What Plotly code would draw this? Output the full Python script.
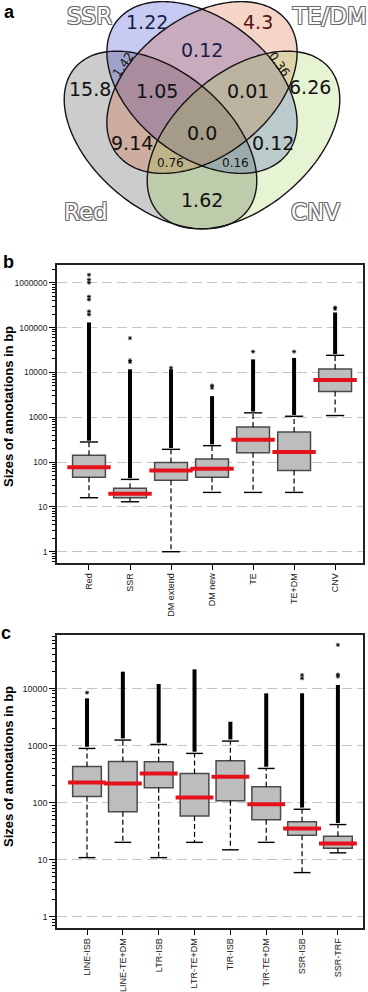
import numpy as np
import plotly.graph_objects as go

W, H = 368, 992

# ---------------- Panel a : Venn diagram ----------------
venn_sets = ["Red", "SSR", "TE/DM", "CNV"]
venn_region_text = ["1.22", "4.3", "0.12", "1.42", "0.36", "15.8", "1.05", "0.01",
                    "6.26", "0.0", "9.14", "0.12", "0.76", "0.16", "1.62"]

# layout of the diagram (pixel space)
venn_cx = [160.5, 202, 202, 243.5]
venn_cy = [140, 87.5, 87.5, 140]
venn_a = [112, 108, 108, 112]
venn_b = [68, 69, 69, 68]
venn_rot = [40, 38, -38, -40]
venn_fill = ["rgb(0,0,0)", "rgb(0,20,205)", "rgb(205,65,0)", "rgb(145,207,60)"]
venn_alpha = [0.2, 0.22, 0.22, 0.22]

region_x = [147, 258, 202, 123, 279, 90, 157, 248, 310, 202, 132, 273, 170, 235, 202]
region_y = [22, 22, 50, 65, 64, 89, 91, 91, 87, 133, 143, 143, 163, 163, 200]
region_size = [19, 19, 19, 12, 12, 19, 19, 19, 19, 19, 19, 19, 12, 12, 19]
region_angle = [0, 0, 0, -55, 55, 0, 0, 0, 0, 0, 0, 0, 0, 0, 0]
region_color = ["#1c1c4a", "#5a1212", "#1c1c4a", "#111", "#111", "#111", "#111", "#111",
                "#111", "#111", "#111", "#111", "#111", "#111", "#111"]
set_label_x = [86, 89, 329, 315]
set_label_y = [212, 16, 16, 212]

# ---------------- Panel b ----------------
cats_b = ["Red", "SSR", "DM extend", "DM new", "TE", "TE+DM", "CNV"]
q1_b = [46, 16, 39, 46, 162, 65, 3760]
med_b = [77, 19.5, 65, 71, 316, 167, 6730]
q3_b = [141, 26, 98, 117, 608, 470, 11900]
lo_b = [16, 13, 1, 21, 21, 21, 1090]
hi_b = [280, 41, 192, 232, 1250, 1050, 24000]
dense_top_b = [130000, 11700, 11700, 2950, 19500, 21000, 217000]
sparse_b = [[195000, 230000, 420000, 490000, 1000000, 1170000, 1500000],
            [17000, 18500, 58000],
            [12600],
            [4500, 5100],
            [29000],
            [29000],
            [260000, 280000]]
yticks_b = [1, 10, 100, 1000, 10000, 100000, 1000000]

# ---------------- Panel c ----------------
cats_c = ["LINE-ISB", "LINE-TE+DM", "LTR-ISB", "LTR-TE+DM", "TIR-ISB", "TIR-TE+DM", "SSR-ISB", "SSR-TRF"]
q1_c = [127, 69, 181, 58, 107, 50, 26.7, 15.8]
med_c = [224, 215, 323, 122, 282, 93, 35, 19]
q3_c = [428, 524, 517, 323, 538, 188, 46, 25.7]
lo_c = [10.8, 20, 10.8, 20, 14.8, 20, 5.9, 13.1]
hi_c = [885, 1240, 1040, 724, 1190, 395, 76, 41]
dense_top_c = [6680, 19600, 11900, 21500, 2600, 8170, 8200, 11400]
sparse_c = [[8400], [], [], [], [], [], [15000, 17100], [16000, 17500, 57700]]
yticks_c = [1, 10, 100, 1000, 10000]

fig = go.Figure()


def px(x):
    return x / W


def py(y):
    return 1 - y / H


def ellipse_path(cx, cy, a, b, rot, n=180):
    t = np.linspace(0, 2 * np.pi, n, endpoint=False)
    r = np.deg2rad(rot)
    xs = cx + a * np.cos(t) * np.cos(r) - b * np.sin(t) * np.sin(r)
    ys = cy + a * np.cos(t) * np.sin(r) + b * np.sin(t) * np.cos(r)
    pts = [f"{px(x):.5f},{py(y):.5f}" for x, y in zip(xs, ys)]
    return "M" + " L".join(pts) + " Z"


shapes = []
for i in range(4):
    shapes.append(dict(type="path", xref="paper", yref="paper",
                       path=ellipse_path(venn_cx[i], venn_cy[i], venn_a[i], venn_b[i], venn_rot[i]),
                       fillcolor=venn_fill[i], opacity=venn_alpha[i], line=dict(width=0)))
for i in range(4):
    shapes.append(dict(type="path", xref="paper", yref="paper",
                       path=ellipse_path(venn_cx[i], venn_cy[i], venn_a[i], venn_b[i], venn_rot[i]),
                       fillcolor="rgba(0,0,0,0)", line=dict(width=1.4, color="#141414")))

annotations = []


def note(x, y, text, font, angle=0):
    annotations.append(dict(x=px(x), y=py(y), xref="paper", yref="paper", text=text,
                            showarrow=False, textangle=angle, xanchor="center", yanchor="middle",
                            font=font))


for i, txt in enumerate(venn_region_text):
    note(region_x[i], region_y[i], txt,
         dict(family="DejaVu Sans", size=region_size[i], color=region_color[i]), region_angle[i])

outline = "-1px -1px 0 #6a6a6a, 1px -1px 0 #6a6a6a, -1px 1px 0 #6a6a6a, 1px 1px 0 #6a6a6a"
for i, name in enumerate(venn_sets):
    note(set_label_x[i], set_label_y[i], name,
         dict(family="DejaVu Sans", size=23, color="#fbfbfb", shadow=outline))

# panel letters
for letter, lx, ly in [("a", 9, 12), ("b", 8, 262), ("c", 6, 633)]:
    note(lx, ly, f"<b>{letter}</b>", dict(family="Liberation Sans", size=18, color="black"))

# y titles
for ty in [407, 767]:
    note(8, ty, "<b>Sizes of annotations in bp</b>",
         dict(family="Liberation Sans", size=13, color="black"), -90)


def add_boxes(cats, q1, med, q3, lo, hi, dense_top, sparse, xa, ya, box_px, cap_px):
    # dense outliers
    xs, ys = [], []
    for c, h, d in zip(cats, hi, dense_top):
        xs += [c, c, None]
        ys += [h * 1.07, d, None]
    fig.add_trace(go.Scatter(x=xs, y=ys, mode="lines", line=dict(color="black", width=4),
                             xaxis=xa, yaxis=ya, hoverinfo="skip"))
    # sparse outliers
    sx, sy = [], []
    for c, pts in zip(cats, sparse):
        for p in pts:
            sx.append(c)
            sy.append(p)
    fig.add_trace(go.Scatter(x=sx, y=sy, mode="markers",
                             marker=dict(symbol="asterisk-open", size=3.5, color="black",
                                         line=dict(width=0.8, color="black")),
                             xaxis=xa, yaxis=ya, hoverinfo="skip"))
    # whiskers
    wx, wy = [], []
    for c, a1, a3, l, h in zip(cats, q1, q3, lo, hi):
        wx += [c, c, None, c, c, None]
        wy += [a3, h, None, a1, l, None]
    fig.add_trace(go.Scatter(x=wx, y=wy, mode="lines", line=dict(color="black", width=1.2, dash="5px,3px"),
                             xaxis=xa, yaxis=ya, hoverinfo="skip"))
    # caps
    fig.add_trace(go.Scatter(x=list(cats) + list(cats), y=list(hi) + list(lo), mode="markers",
                             marker=dict(symbol="line-ew", size=cap_px, color="black",
                                         line=dict(width=1.4, color="black")),
                             xaxis=xa, yaxis=ya, hoverinfo="skip"))
    # boxes
    fig.add_trace(go.Box(x=cats, q1=q1, median=med, q3=q3, lowerfence=q1, upperfence=q3,
                         fillcolor="#bdbdbd", line=dict(color="#4a4a4a", width=1.5), width=0.8,
                         boxpoints=False, xaxis=xa, yaxis=ya, hoverinfo="skip"))
    # medians
    fig.add_trace(go.Scatter(x=cats, y=med, mode="markers",
                             marker=dict(symbol="line-ew", size=box_px, color="#e5121b",
                                         line=dict(width=4, color="#e5121b")),
                             xaxis=xa, yaxis=ya, hoverinfo="skip"))


add_boxes(cats_b, q1_b, med_b, q3_b, lo_b, hi_b, dense_top_b, sparse_b, "x", "y", 31, 13)
add_boxes(cats_c, q1_c, med_c, q3_c, lo_c, hi_c, dense_top_c, sparse_c, "x2", "y2", 27, 12)


def minor_vals(lo_exp, hi_exp):
    v = []
    for k in range(lo_exp, hi_exp + 1):
        for m in range(2, 10):
            v.append(m * 10.0 ** k)
    return v


xcommon = dict(type="category", showline=True, linecolor="#222", linewidth=1.5, mirror=True,
               ticks="outside", ticklen=5, tickcolor="black", tickangle=-90, showgrid=False,
               zeroline=False, tickfont=dict(family="Liberation Sans", size=9, color="#222"))
ycommon = dict(type="log", showline=True, linecolor="#222", linewidth=1.5, mirror=True,
               ticks="outside", ticklen=6, tickcolor="black", showgrid=True, gridcolor="#c4c4c4",
               griddash="10px,5px", gridwidth=1, zeroline=False)

fig.update_layout(
    width=W, height=H, margin=dict(l=0, r=0, t=0, b=0), autosize=False,
    paper_bgcolor="white", plot_bgcolor="white", showlegend=False,
    shapes=shapes, annotations=annotations,
    xaxis=dict(domain=[57 / W, 363 / W], anchor="y", categoryorder="array", categoryarray=cats_b,
               range=[-0.78, 6.68], **xcommon),
    yaxis=dict(domain=[1 - 563 / H, 1 - 265 / H], anchor="x", range=[-0.252, 6.395],
               tickvals=yticks_b, ticktext=[str(v) for v in yticks_b],
               tickfont=dict(family="Liberation Sans", size=8.5, color="#222"),
               minor=dict(tickmode="array", tickvals=minor_vals(-1, 6), ticks="outside", ticklen=3,
                          tickcolor="black", showgrid=False), **ycommon),
    xaxis2=dict(domain=[57 / W, 363 / W], anchor="y2", categoryorder="array", categoryarray=cats_c,
                range=[-0.837, 7.7], **xcommon),
    yaxis2=dict(domain=[1 - 928 / H, 1 - 635 / H], anchor="x2", range=[-0.2, 4.935],
                tickvals=yticks_c, ticktext=[str(v) for v in yticks_c],
                tickfont=dict(family="Liberation Sans", size=9, color="#222"),
                minor=dict(tickmode="array", tickvals=minor_vals(-1, 4), ticks="outside", ticklen=3,
                           tickcolor="black", showgrid=False), **ycommon),
)

fig.write_html("out.html", config={"displayModeBar": False},
               post_script="document.body.style.margin='0px';")
